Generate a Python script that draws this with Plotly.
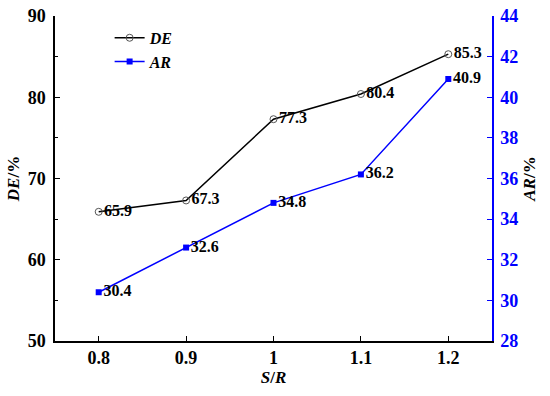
import plotly.graph_objects as go

sr = [0.8, 0.9, 1.0, 1.1, 1.2]
de = [65.9, 67.3, 77.3, 80.4, 85.3]
ar = [30.4, 32.6, 34.8, 36.2, 40.9]
de_labels = ["65.9", "67.3", "77.3", "80.4", "85.3"]
ar_labels = ["30.4", "32.6", "34.8", "36.2", "40.9"]

FONT = "Liberation Serif"

fig = go.Figure()
fig.add_trace(go.Scatter(
    x=sr, y=de, name="<b><i>DE</i></b>", mode="lines+markers+text",
    line=dict(color="black", width=1.5),
    marker=dict(symbol="circle-open", size=7, color="#555555", line=dict(width=1)),
    text=["<b>%s</b>" % t for t in de_labels], textposition="middle right",
    textfont=dict(family=FONT, size=16, color="black"),
    yaxis="y", cliponaxis=False))
fig.add_trace(go.Scatter(
    x=sr, y=ar, name="<b><i>AR</i></b>", mode="lines+markers+text",
    line=dict(color="#0000ff", width=1.5),
    marker=dict(symbol="square", size=6, color="#0000ff"),
    text=["<b>%s</b>" % t for t in ar_labels], textposition="middle right",
    textfont=dict(family=FONT, size=16, color="black"),
    yaxis="y2", cliponaxis=False))

fig.update_layout(
    width=550, height=396,
    margin=dict(l=55, r=58, t=16, b=55, autoexpand=False),
    paper_bgcolor="white", plot_bgcolor="white",
    font=dict(family=FONT, size=17, color="black"),
    showlegend=True,
    legend=dict(x=0.125, y=0.985, xanchor="left", yanchor="top",
                bgcolor="rgba(0,0,0,0)", font=dict(family=FONT, size=16),
                tracegroupgap=0, itemwidth=30),
    xaxis=dict(range=[0.75, 1.25], tickvals=sr, ticktext=["0.8", "0.9", "1", "1.1", "1.2"],
               showgrid=False, zeroline=False, showline=True, linecolor="black", linewidth=1.5,
               ticks="inside", ticklen=5, tickcolor="black",
               tickfont=dict(family=FONT, size=18, color="black", weight="bold"),
               ticklabeloverflow="allow",
               title=dict(text="<b><i>S</i>/<i>R</i></b>", font=dict(family=FONT, size=17), standoff=4)),
    yaxis=dict(range=[50, 90], dtick=10, showgrid=False, zeroline=False,
               showline=True, linecolor="black", linewidth=1.5,
               ticks="inside", ticklen=5, tickcolor="black",
               minor=dict(dtick=5, ticks="inside", ticklen=3, tickcolor="black"),
               tickfont=dict(family=FONT, size=18, color="black", weight="bold"),
               ticklabeloverflow="allow", ticklabelstandoff=4,
               tickformat="d",
               title=dict(text="<b><i>DE</i>/%</b>", font=dict(family=FONT, size=17), standoff=4)),
    yaxis2=dict(range=[28, 44], dtick=2, overlaying="y", side="right",
                showgrid=False, zeroline=False, showline=True, linecolor="#0000ff", linewidth=1.5,
                ticks="inside", ticklen=5, tickcolor="#0000ff",
                tickfont=dict(family=FONT, size=18, color="#0000ff", weight="bold"),
                ticklabeloverflow="allow", ticklabelstandoff=3,
                title=dict(text="<b><i>AR</i>/%</b>", font=dict(family=FONT, size=17, color="black"), standoff=6)),
)

fig.write_html("out.html", config={"displayModeBar": False},
               post_script="document.body.style.margin='0';document.body.style.overflow='hidden';")
